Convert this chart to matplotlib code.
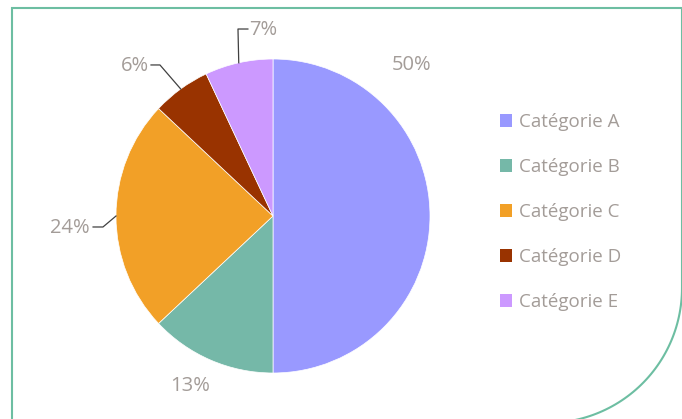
import matplotlib
matplotlib.use("Agg")
import matplotlib.pyplot as plt
import numpy as np
from matplotlib.path import Path
from matplotlib.patches import PathPatch, Patch
from matplotlib.transforms import Affine2D

categories = ["Catégorie A", "Catégorie B", "Catégorie C", "Catégorie D", "Catégorie E"]
values = [50, 13, 24, 6, 7]
colors = ["#9999FF", "#75B8A8", "#F2A027", "#993300", "#CC99FF"]

# label placement (data units, pie radius = 1); None = no leader line
label_pos = [(0.88, 0.96), (-0.53, -1.08), (-1.165, -0.075), (-0.79, 0.955), (-0.155, 1.185)]
label_ha = ["center", "center", "right", "right", "left"]
elbows = [None, None, (-1.083, -0.07), (-0.72, 0.962), (-0.223, 1.191)]
ends = [None, None, (-1.146, -0.07), (-0.777, 0.962), (-0.16, 1.191)]

W, H = 682, 419
cx, cy, R = 273, 216, 157  # pie centre/radius in pixels
text_col = "#A39C98"
frame_col = "#6DBEA2"

plt.rcParams['font.family'] = ['Open Sans', 'DejaVu Sans']

fig = plt.figure(figsize=(W / 100, H / 100), dpi=100)
ax = fig.add_axes([0, 0, 1, 1])

wedges, _ = ax.pie(values, colors=colors, startangle=90, counterclock=False,
                   radius=1, center=(0, 0), frame=True,
                   wedgeprops=dict(edgecolor='white', linewidth=0.5))
ax.set_xlim(-cx / R, (W - cx) / R)
ax.set_ylim((cy - H) / R, cy / R)
ax.set_aspect('auto')
ax.axis('off')

for w, v, pos, ha, el, en in zip(wedges, values, label_pos, label_ha, elbows, ends):
    ax.text(pos[0], pos[1], f"{v}%", ha=ha, va='center', fontsize=14.5, color=text_col)
    if el is not None:
        mid = np.deg2rad((w.theta1 + w.theta2) / 2)
        p0 = (np.cos(mid), np.sin(mid))
        ax.plot([p0[0], el[0], en[0]], [p0[1], el[1], en[1]], color='#404040', lw=0.9)

handles = [Patch(facecolor=c, edgecolor='none') for c in colors]
fig.legend(handles, categories, loc='upper left',
           bbox_to_anchor=(500 / W, 1 - 113 / H), frameon=False,
           fontsize=13.5, labelcolor=text_col, handlelength=0.65, handleheight=0.65,
           handletextpad=0.35, labelspacing=1.44, borderpad=0, borderaxespad=0)

# chart frame with large rounded bottom-right corner
rc_x, rc_y, rr = 547, 288, 135
ang = np.linspace(0, -np.pi / 2, 60)
arc = np.column_stack([rc_x + rr * np.cos(ang), rc_y - rr * np.sin(ang)])
verts = np.vstack([[[12, 430], [12, 8], [rc_x + rr, 8], [rc_x + rr, rc_y]], arc])
px = Affine2D().scale(1, -1).translate(0, H)
frame = PathPatch(Path(verts), fill=False, edgecolor=frame_col, lw=1.5, transform=px)
fig.add_artist(frame)

fig.savefig("out.png", dpi=100)
